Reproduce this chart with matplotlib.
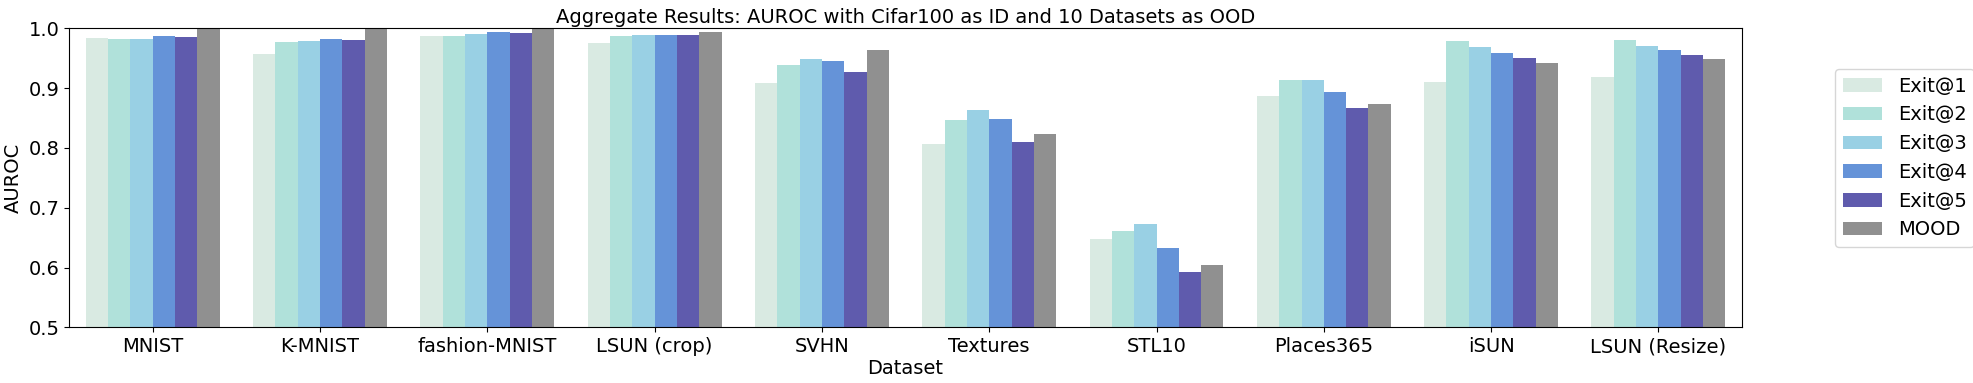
import numpy as np
import matplotlib
matplotlib.use('Agg')
import matplotlib.pyplot as plt

datasets = ['MNIST', 'K-MNIST', 'fashion-MNIST', 'LSUN (crop)', 'SVHN',
            'Textures', 'STL10', 'Places365', 'iSUN', 'LSUN (Resize)']
methods = ['Exit@1', 'Exit@2', 'Exit@3', 'Exit@4', 'Exit@5', 'MOOD']

exit1 = [0.984, 0.957, 0.987, 0.975, 0.909, 0.807, 0.648, 0.887, 0.910, 0.919]
exit2 = [0.982, 0.977, 0.987, 0.987, 0.939, 0.847, 0.661, 0.914, 0.979, 0.981]
exit3 = [0.982, 0.979, 0.990, 0.989, 0.949, 0.863, 0.673, 0.914, 0.969, 0.971]
exit4 = [0.987, 0.982, 0.994, 0.989, 0.945, 0.848, 0.633, 0.894, 0.959, 0.964]
exit5 = [0.985, 0.980, 0.992, 0.989, 0.927, 0.810, 0.593, 0.867, 0.950, 0.955]
mood = [1.000, 1.000, 1.000, 0.994, 0.964, 0.823, 0.604, 0.874, 0.942, 0.949]

colors = ['#d9eae2', '#b0e1da', '#99d0e4', '#6593d8', '#5f5bad', '#909090']

plt.rcParams['font.family'] = ['DejaVu Sans']

fig = plt.figure(figsize=(19.74, 3.83), dpi=100)
ax = fig.add_axes([0.035, 0.1454, 0.8475, 0.7807])

series = [exit1, exit2, exit3, exit4, exit5, mood]
x = np.arange(len(datasets))
w = 0.8 / len(series)
for i, (vals, c, name) in enumerate(zip(series, colors, methods)):
    ax.bar(x - 0.4 + w * (i + 0.5), vals, width=w, color=c, label=name)

ax.set_ylim(0.5, 1.0)
ax.set_xlim(-0.5, len(datasets) - 0.5)
ax.set_xticks(x)
ax.set_xticklabels(datasets, fontsize=14)
ax.tick_params(axis='y', labelsize=14)
ax.set_yticks([0.5, 0.6, 0.7, 0.8, 0.9, 1.0])
ax.set_xlabel('Dataset', fontsize=14, labelpad=2)
ax.set_ylabel('AUROC', fontsize=14)
ax.set_title('Aggregate Results: AUROC with Cifar100 as ID and 10 Datasets as OOD',
             fontsize=14, pad=4)

ax.legend(loc='center left', bbox_to_anchor=(1.05, 0.566), fontsize=14, frameon=True)

fig.savefig('out.png', dpi=100)
